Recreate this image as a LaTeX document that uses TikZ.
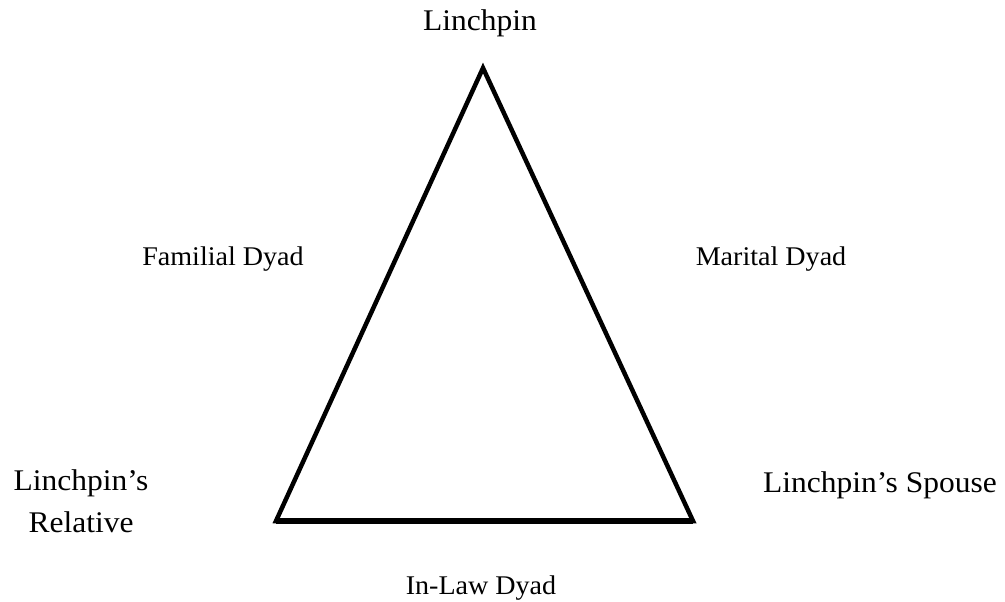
\documentclass[tikz,border=0pt]{standalone}
\usepackage{fontspec}
\setmainfont{Liberation Serif}
\begin{document}
\begin{tikzpicture}[x=1pt,y=-1pt,
  vlabel/.style={inner sep=0pt,anchor=base,font=\fontsize{30}{42}\selectfont,align=center,xscale=1.05},
  dlabel/.style={inner sep=0pt,anchor=base,font=\fontsize{27}{32}\selectfont,xscale=1.04},
  tri/.style={line width=4.5pt,line join=miter,miter limit=20}]
\useasboundingbox (0,0) rectangle (1005,602);
\coordinate (A) at (483,68);
\coordinate (L) at (276,521);
\coordinate (R) at (693,521);
\draw[tri] (L) -- (A) -- (R) -- cycle;
\draw[line width=6pt] (L) -- (R);
\node[vlabel] (top) at (480,31) {Linchpin};
\node[vlabel] (rel) at (81,532) {Linchpin’s\\Relative};
\node[vlabel] (sp) at (880,492) {Linchpin’s Spouse};
\node[dlabel] (fam) at (223,265) {Familial Dyad};
\node[dlabel] (mar) at (771,265) {Marital Dyad};
\node[dlabel] (inl) at (481,594) {In-Law Dyad};
\end{tikzpicture}
\end{document}
